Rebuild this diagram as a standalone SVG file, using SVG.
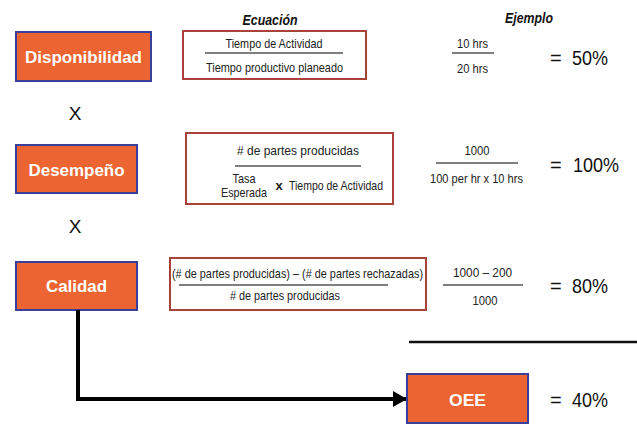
<svg xmlns="http://www.w3.org/2000/svg" width="637" height="433" viewBox="0 0 637 433">
  <style>
    .node rect { fill: #EC6431; stroke: #3B3F9A; stroke-width: 2; }
    .node text { fill: #FFFFFF; font-family: "Liberation Sans", Arial, sans-serif; font-weight: bold; font-size: 17px; text-anchor: middle; }
    .eq rect { fill: #FFFFFF; stroke: #A9433A; stroke-width: 2; }
    .small { font-family: "Liberation Sans", Arial, sans-serif; font-size: 13px; fill: #222222; text-anchor: middle; }
    .head { font-family: "Liberation Sans", Arial, sans-serif; font-size: 14px; font-weight: bold; font-style: italic; fill: #111111; text-anchor: middle; }
    .res { font-family: "Liberation Sans", Arial, sans-serif; font-size: 20px; fill: #111111; }
    .times { font-family: "Liberation Sans", Arial, sans-serif; font-size: 19px; fill: #111111; text-anchor: middle; }
    .frac { stroke: #555555; stroke-width: 1.5; }
    .conn { fill: none; stroke: #000000; stroke-width: 4; }
  </style>
  <defs>
    <marker id="arrow" markerUnits="userSpaceOnUse" markerWidth="14" markerHeight="16" refX="13" refY="8" orient="auto">
      <path d="M0,0 L14,8 L0,16 Z" fill="#000000"/>
    </marker>
  </defs>

  <!-- column headings -->
  <text class="head" x="270" y="25" textLength="55" lengthAdjust="spacingAndGlyphs">Ecuación</text>
  <text class="head" x="529" y="23" textLength="48" lengthAdjust="spacingAndGlyphs">Ejemplo</text>

  <!-- factor nodes -->
  <g id="disponibilidad" class="node">
    <rect x="16" y="32" width="135" height="49"/>
    <text x="83.5" y="63" textLength="117" lengthAdjust="spacingAndGlyphs">Disponibilidad</text>
  </g>
  <g id="desempeno" class="node">
    <rect x="16" y="145" width="121" height="48"/>
    <text x="76.5" y="176" textLength="96" lengthAdjust="spacingAndGlyphs">Desempeño</text>
  </g>
  <g id="calidad" class="node">
    <rect x="16" y="262" width="121" height="48"/>
    <text x="76.5" y="292" textLength="61" lengthAdjust="spacingAndGlyphs">Calidad</text>
  </g>
  <g id="oee" class="node">
    <rect x="407" y="374" width="121" height="49"/>
    <text x="467.5" y="406" textLength="37" lengthAdjust="spacingAndGlyphs">OEE</text>
  </g>

  <!-- multiplication signs -->
  <text class="times" x="75" y="120">X</text>
  <text class="times" x="75" y="233">X</text>

  <!-- equation 1 -->
  <g id="eq-disponibilidad" class="eq">
    <rect x="183" y="31" width="183" height="48"/>
    <text class="small" x="274" y="48" textLength="97" lengthAdjust="spacingAndGlyphs">Tiempo de Actividad</text>
    <line class="frac" x1="205" y1="53" x2="343" y2="53"/>
    <text class="small" x="274.5" y="72" textLength="137" lengthAdjust="spacingAndGlyphs">Tiempo productivo planeado</text>
  </g>

  <!-- equation 2 -->
  <g id="eq-desempeno" class="eq">
    <rect x="186" y="133" width="207" height="71"/>
    <text class="small" x="298" y="155" textLength="122" lengthAdjust="spacingAndGlyphs"># de partes producidas</text>
    <line class="frac" x1="235" y1="166" x2="361" y2="166"/>
    <text class="small" x="244" y="183" textLength="23" lengthAdjust="spacingAndGlyphs">Tasa</text>
    <text class="small" x="244" y="197" textLength="46" lengthAdjust="spacingAndGlyphs">Esperada</text>
    <text class="small" x="279" y="190" font-weight="bold">x</text>
    <text class="small" x="336" y="190" textLength="94" lengthAdjust="spacingAndGlyphs">Tiempo de Actividad</text>
  </g>

  <!-- equation 3 -->
  <g id="eq-calidad" class="eq">
    <rect x="170" y="258" width="256" height="52"/>
    <text class="small" x="297.5" y="278" textLength="251" lengthAdjust="spacingAndGlyphs">(# de partes producidas) – (# de partes rechazadas)</text>
    <line class="frac" x1="179" y1="285" x2="388" y2="285"/>
    <text class="small" x="285" y="300" textLength="110" lengthAdjust="spacingAndGlyphs"># de partes producidas</text>
  </g>

  <!-- worked examples -->
  <g id="ex-disponibilidad">
    <text class="small" x="472.5" y="48" textLength="31" lengthAdjust="spacingAndGlyphs">10 hrs</text>
    <line class="frac" x1="452" y1="53" x2="494" y2="53"/>
    <text class="small" x="472.5" y="73" textLength="31" lengthAdjust="spacingAndGlyphs">20 hrs</text>
    <text class="res" x="550" y="65">=</text>
    <text class="res" x="572" y="65" textLength="36" lengthAdjust="spacingAndGlyphs">50%</text>
  </g>
  <g id="ex-desempeno">
    <text class="small" x="477" y="155" textLength="25" lengthAdjust="spacingAndGlyphs">1000</text>
    <line class="frac" x1="436" y1="163" x2="518" y2="163"/>
    <text class="small" x="476.5" y="183" textLength="93" lengthAdjust="spacingAndGlyphs">100 per hr x  10 hrs</text>
    <text class="res" x="550" y="172">=</text>
    <text class="res" x="573" y="172" textLength="46" lengthAdjust="spacingAndGlyphs">100%</text>
  </g>
  <g id="ex-calidad">
    <text class="small" x="482.5" y="277" textLength="59" lengthAdjust="spacingAndGlyphs">1000 –  200</text>
    <line class="frac" x1="443" y1="285" x2="523" y2="285"/>
    <text class="small" x="485" y="305" textLength="25" lengthAdjust="spacingAndGlyphs">1000</text>
    <text class="res" x="550" y="293">=</text>
    <text class="res" x="572" y="293" textLength="36" lengthAdjust="spacingAndGlyphs">80%</text>
  </g>

  <!-- product bar and result -->
  <line x1="409" y1="342" x2="637" y2="342" stroke="#111111" stroke-width="2.5"/>
  <text class="res" x="550" y="407">=</text>
  <text class="res" x="572" y="407" textLength="36" lengthAdjust="spacingAndGlyphs">40%</text>

  <!-- connectors -->
  <g id="connectors">
    <path class="conn" d="M78,310 L78,399 L406,399" marker-end="url(#arrow)"/>
  </g>
</svg>
